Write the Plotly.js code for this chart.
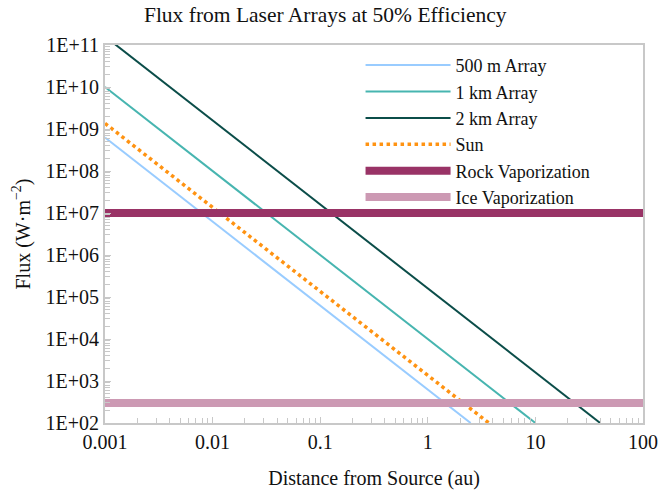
<!DOCTYPE html>
<html>
<head>
<meta charset="utf-8">
<script src="https://cdn.plot.ly/plotly-3.0.1.min.js"></script>
<style>html,body{margin:0;padding:0;background:#fff;}#chart{width:672px;height:492px;}</style>
</head>
<body>
<div id="chart"></div>
<script>
// Series (straight lines in log-log space: endpoints)
const names = ["500 m Array", "1 km Array", "2 km Array", "Sun", "Rock Vaporization", "Ice Vaporization"];
const x500 = [0.001, 2.5];
const y500 = [6.25e8, 100];
const x1k = [0.001, 10];
const y1k = [1e10, 100];
const x2k = [0.001, 40];
const y2k = [1.6e11, 100];
const xSun = [0.001, 3.69];
const ySun = [1.361e9, 100];
const xRock = [0.001, 100];
const yRock = [1e7, 1e7];
const xIce = [0.001, 100];
const yIce = [300, 300];

const xTickVals = [0.001, 0.01, 0.1, 1, 10, 100];
const xTickText = ["0.001", "0.01", "0.1", "1", "10", "100"];
const yTickVals = [1e2, 1e3, 1e4, 1e5, 1e6, 1e7, 1e8, 1e9, 1e10, 1e11];
const yTickText = ["1E+02", "1E+03", "1E+04", "1E+05", "1E+06", "1E+07", "1E+08", "1E+09", "1E+10", "1E+11"];

const colors = ["#99ccff", "#47b5b0", "#0b4d49", "#ff9312", "#993366", "#cc99b3"];
const widths = [2, 2, 2, 3.5, 8, 8];
const dashes = ["solid", "solid", "solid", "dot", "solid", "solid"];

const xs = [x500, x1k, x2k, xSun, xRock, xIce];
const ys = [y500, y1k, y2k, ySun, yRock, yIce];

const traces = names.map((n, i) => ({
  x: xs[i], y: ys[i], name: n, mode: "lines", type: "scatter",
  line: {color: colors[i], width: widths[i], dash: dashes[i]}
}));

const font = "'Liberation Serif', 'Times New Roman', serif";
const fs = 20;
const layout = {
  width: 672, height: 492,
  margin: {l: 105, r: 29, t: 45, b: 69},
  paper_bgcolor: "#fff", plot_bgcolor: "#fff",
  font: {family: font, size: fs, color: "#111"},
  title: {text: "Flux from Laser Arrays at 50% Efficiency", x: 0.484, xanchor: "center", y: 0.971, yanchor: "middle", font: {family: font, size: 21.5, color: "#111"}},
  showlegend: true,
  legend: {x: 0.475, y: 0.995, xanchor: "left", yanchor: "top", bgcolor: "rgba(0,0,0,0)", font: {family: font, size: 18, color: "#111"}, itemwidth: 85, tracegroupgap: 0},
  xaxis: {
    type: "log", range: [-3, 2], tickmode: "array", tickvals: xTickVals, ticktext: xTickText,
    ticks: "inside", ticklen: 6, tickcolor: "#c8c8c8", tickwidth: 1,
    showline: true, linecolor: "#c8c8c8", linewidth: 2, mirror: true,
    showgrid: false, zeroline: false,
    tickfont: {family: font, size: fs, color: "#111"},
    title: {text: "Distance from Source (au)", font: {family: font, size: fs, color: "#111"}, standoff: 19},
    minor: {ticks: "inside", ticklen: 5, tickcolor: "#c8c8c8", dtick: "D1", showgrid: false}
  },
  yaxis: {
    type: "log", range: [2, 11], tickmode: "array", tickvals: yTickVals, ticktext: yTickText,
    ticks: "inside", ticklen: 6, tickcolor: "#c8c8c8", tickwidth: 1,
    showline: true, linecolor: "#c8c8c8", linewidth: 2, mirror: true,
    showgrid: false, zeroline: false,
    tickfont: {family: font, size: fs, color: "#111"},
    title: {text: "Flux (W·m<sup>−2</sup>)", font: {family: font, size: fs, color: "#111"}, standoff: 10},
    minor: {ticks: "inside", ticklen: 5, tickcolor: "#c8c8c8", dtick: "D1", showgrid: false}
  }
};

Plotly.newPlot("chart", traces, layout, {displayModeBar: false, staticPlot: true});
</script>
</body>
</html>
